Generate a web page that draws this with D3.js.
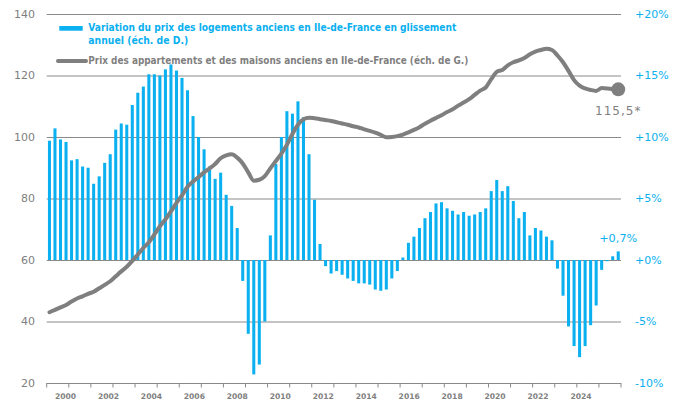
<!DOCTYPE html>
<html>
<head>
<meta charset="utf-8">
<script src="https://cdn.jsdelivr.net/npm/d3@7.9.0/dist/d3.min.js"></script>
<style>
  html, body { margin: 0; padding: 0; background: #fff; }
  svg { display: block; font-family: "DejaVu Sans", sans-serif; }
</style>
</head>
<body>
<svg id="chart" width="684" height="400"></svg>
<script>
// quarterly data, 1999 Q1 -> 2024 Q4
const variation = [
  9.7, 10.7, 9.8, 9.6, 8.1, 8.2, 7.6, 7.5, 6.2, 6.8, 7.9, 8.6,
  10.6, 11.1, 11.0, 12.6, 13.6, 14.1, 15.1, 15.1, 15.0, 15.5, 15.9, 15.4,
  14.8, 13.8, 11.7, 10.0, 9.0, 7.6, 6.6, 7.1, 5.3, 4.4, 2.6, -1.7,
  -6.0, -9.3, -8.5, -5.0, 2.0, 7.8, 10.0, 12.1, 11.9, 12.9, 11.6, 8.6,
  4.9, 1.3, -0.5, -1.1, -0.9, -1.2, -1.5, -1.7, -1.9, -1.9, -2.0, -2.4,
  -2.5, -2.4, -1.5, -0.9, 0.2, 1.4, 1.9, 2.6, 3.4, 3.9, 4.6, 4.7,
  4.2, 4.0, 3.7, 3.9, 3.6, 3.7, 3.9, 4.2, 5.6, 6.5, 5.6, 6.0,
  4.8, 3.4, 3.9, 2.0, 2.6, 2.4, 1.9, 1.6, -0.7, -2.9, -5.4, -7.0,
  -7.9, -7.0, -5.3, -3.7, -0.8, -0.1, 0.3, 0.7
];
const indexPrix = [
  43.0, 43.8, 44.6, 45.4, 46.5, 47.5, 48.2, 49.0, 49.7, 50.8, 51.9, 53.1,
  54.7, 56.3, 57.8, 59.7, 61.8, 63.9, 65.8, 68.3, 71.0, 73.2, 75.8, 78.6,
  81.0, 83.8, 85.5, 87.0, 88.5, 89.8, 91.2, 93.1, 94.0, 94.4, 93.3, 91.4,
  88.5, 85.8, 86.1, 87.3, 89.8, 92.2, 94.6, 97.5, 101.0, 104.0, 105.8, 106.3,
  106.1, 105.8, 105.5, 105.2, 104.8, 104.4, 104.0, 103.5, 103.1, 102.5, 102.0, 101.4,
  100.7, 99.9, 100.0, 100.3, 100.8, 101.5, 102.3, 103.2, 104.3, 105.3, 106.2, 107.1,
  108.1, 109.0, 110.2, 111.2, 112.3, 113.7, 115.1, 116.1, 118.8, 121.2, 121.8, 123.3,
  124.3, 124.9, 125.7, 126.9, 127.8, 128.3, 128.7, 128.3, 126.5, 124.3, 121.5, 118.5,
  116.7, 115.8, 115.3, 115.0, 115.9, 115.8, 115.6, 115.5
];
const firstYear = 1999;
const lastYear = 2025;
const yearLabels = d3.range(2000, 2025, 2);
const leftTicks = [20, 40, 60, 80, 100, 120, 140];
const rightTicks = [-10, -5, 0, 5, 10, 15, 20];
const rightTickText = ['-10%', '-5%', '+0%', '+5%', '+10%', '+15%', '+20%'];
const lastIndexLabel = '115,5*';
const lastVarLabel = '+0,7%';
const legendBarText = ['Variation du prix des logements anciens en Ile-de-France en glissement', 'annuel (éch. de D.)'];
const legendLineText = 'Prix des appartements et des maisons anciens en Ile-de-France (éch. de G.)';

const blue = '#0ab0ef';
const grey = '#7f7f7f';
const gridCol = '#8a8a8a';

const plot = { left: 46.7, right: 621, top: 14, bottom: 383 };

const svg = d3.select('#chart');

const x = d3.scaleBand().domain(d3.range(variation.length))
  .range([plot.left, plot.right]).paddingInner(0.45).paddingOuter(0.225);
const xYear = d3.scaleLinear().domain([firstYear, lastYear]).range([plot.left, plot.right]);
const xLabel = d3.scaleLinear().domain([2000, 2024]).range([65.5, 581]);
const yL = d3.scaleLinear().domain([20, 140]).range([plot.bottom, plot.top]);
const yR = d3.scaleLinear().domain([-10, 20]).range([plot.bottom, plot.top]);

// gridlines
svg.append('g').selectAll('line').data(leftTicks).join('line')
  .attr('x1', plot.left).attr('x2', plot.right)
  .attr('y1', d => yL(d) + 0.5).attr('y2', d => yL(d) + 0.5)
  .attr('stroke', gridCol).attr('stroke-width', 1);

// left axis labels
svg.append('g').selectAll('text').data(leftTicks).join('text')
  .attr('x', 35).attr('y', d => yL(d)).attr('dy', '0.36em')
  .attr('text-anchor', 'end').attr('font-size', 11).attr('fill', grey)
  .text(d => d);

// right axis labels
svg.append('g').selectAll('text').data(rightTicks).join('text')
  .attr('x', 635).attr('y', d => yR(d)).attr('dy', '0.36em')
  .attr('font-size', 11).attr('fill', blue)
  .text((d, i) => rightTickText[i]);

// x ticks at each year
svg.append('g').selectAll('line').data(d3.range(firstYear, lastYear + 1)).join('line')
  .attr('x1', d => xYear(d)).attr('x2', d => xYear(d))
  .attr('y1', plot.bottom).attr('y2', plot.bottom + 4.5)
  .attr('stroke', gridCol).attr('stroke-width', 1);

svg.append('g').selectAll('text').data(yearLabels).join('text')
  .attr('x', d => xLabel(d)).attr('y', 399)
  .attr('text-anchor', 'middle').attr('font-size', 7.6).attr('font-weight', 'bold')
  .attr('fill', grey).text(d => d);

// bars
svg.append('g').selectAll('rect').data(variation).join('rect')
  .attr('x', (d, i) => x(i)).attr('width', x.bandwidth())
  .attr('y', d => yR(Math.max(0, d)))
  .attr('height', d => Math.abs(yR(d) - yR(0)))
  .attr('fill', blue);

// index line
const line = d3.line()
  .x((d, i) => x(i) + x.bandwidth() / 2)
  .y(d => yL(d))
  .curve(d3.curveMonotoneX);

svg.append('path').datum(indexPrix)
  .attr('d', line).attr('fill', 'none')
  .attr('stroke', grey).attr('stroke-width', 4)
  .attr('stroke-linejoin', 'round').attr('stroke-linecap', 'round');

const last = indexPrix.length - 1;
const lastX = x(last) + x.bandwidth() / 2;
svg.append('circle').attr('cx', lastX).attr('cy', yL(indexPrix[last]))
  .attr('r', 7).attr('fill', grey);

svg.append('text').attr('x', lastX).attr('y', yL(indexPrix[last]) + 26)
  .attr('text-anchor', 'middle').attr('font-size', 12).attr('letter-spacing', 1)
  .attr('fill', grey).text(lastIndexLabel);

svg.append('text').attr('x', lastX).attr('y', yR(variation[last]) - 9)
  .attr('text-anchor', 'middle').attr('font-size', 11.3)
  .attr('fill', blue).text(lastVarLabel);

// legend
const leg = svg.append('g');
leg.append('rect').attr('x', 59.3).attr('y', 26).attr('width', 23.4).attr('height', 4.7).attr('fill', blue);
leg.append('text').attr('x', 88.3).attr('y', 30.6)
  .attr('font-size', 10).attr('font-weight', 'bold').attr('fill', blue)
  .attr('textLength', 368).attr('lengthAdjust', 'spacingAndGlyphs')
  .text(legendBarText[0]);
leg.append('text').attr('x', 88.3).attr('y', 44.4)
  .attr('font-size', 10).attr('font-weight', 'bold').attr('fill', blue)
  .attr('textLength', 100).attr('lengthAdjust', 'spacingAndGlyphs')
  .text(legendBarText[1]);
leg.append('line').attr('x1', 58).attr('x2', 86).attr('y1', 61).attr('y2', 61)
  .attr('stroke', grey).attr('stroke-width', 4).attr('stroke-linecap', 'round');
leg.append('text').attr('x', 88.3).attr('y', 64.4)
  .attr('font-size', 10).attr('font-weight', 'bold').attr('fill', grey)
  .attr('textLength', 380).attr('lengthAdjust', 'spacingAndGlyphs')
  .text(legendLineText);
</script>
</body>
</html>
